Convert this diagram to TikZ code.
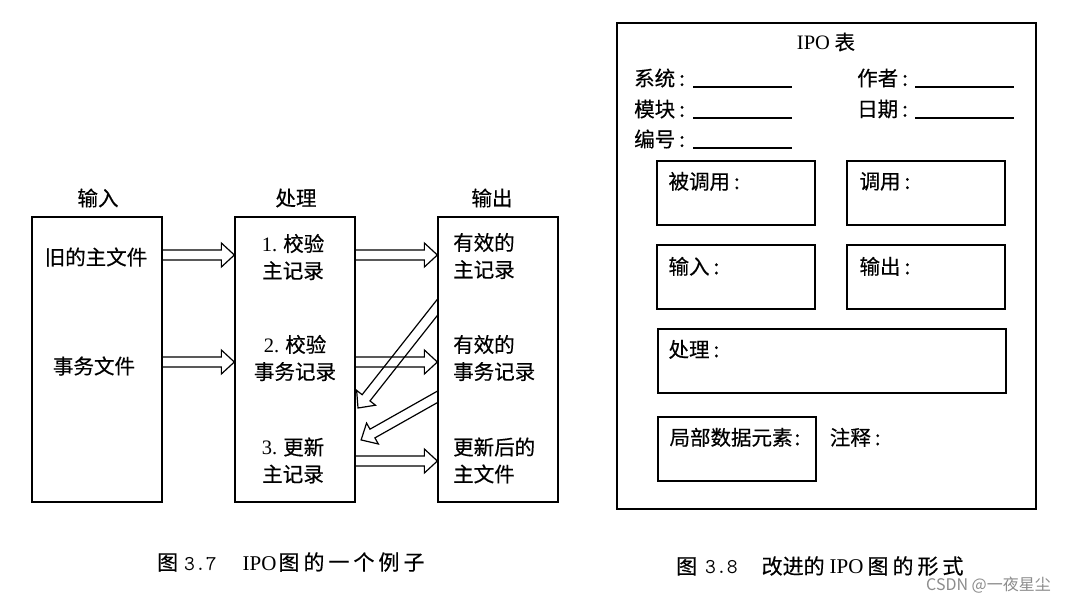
\documentclass[tikz,border=0pt]{standalone}
\usepackage{fontspec}
\setmainfont{Liberation Serif}
\newfontfamily\cjk[FakeBold=0.4]{Noto Sans CJK SC}
\newfontfamily\wmfont{Noto Sans CJK SC}
\newfontfamily\lat{Liberation Serif}
\usetikzlibrary{calc}
\newcommand\hollowarrow[3][]{%
  \path (#2); \pgfgetlastxy{\HAax}{\HAay}%
  \path (#3); \pgfgetlastxy{\HAbx}{\HAby}%
  \pgfmathsetmacro\HAang{atan2(\HAby-\HAay,\HAbx-\HAax)}%
  \pgfmathsetmacro\HAlen{veclen(\HAbx-\HAax,\HAby-\HAay)}%
  \draw[arrowline,#1,shift={(\HAax,\HAay)},rotate=\HAang]
    (0pt,5pt) -- ({\HAlen pt-13pt},5pt) -- ({\HAlen pt-13pt},12pt)
    -- ({\HAlen pt},0pt) -- ({\HAlen pt-13pt},-12pt)
    -- ({\HAlen pt-13pt},-5pt) -- (0pt,-5pt);%
}
\begin{document}
\begin{tikzpicture}[x=1pt,y=-1pt,
  box/.style={draw,line width=1.3pt,inner sep=0pt},
  outerbox/.style={draw,line width=1.5pt,inner sep=0pt},
  txt/.style={font=\cjk\fontsize{20.5}{27}\selectfont,inner sep=0pt},
  capt/.style={font=\cjk\fontsize{21}{25}\selectfont,inner sep=0pt},
  wm/.style={font=\wmfont\fontsize{16}{18}\selectfont,inner sep=0pt,text=black!45},
  arrowline/.style={line width=1.2pt,line join=miter},
  uline/.style={line width=1.2pt}]
\fill[white] (0,0) rectangle (1076,598);
\useasboundingbox (0,0) rectangle (1076,598);

% ---------- left: IPO example ----------
\node[box,minimum width=130pt,minimum height=285pt] (in) at (97,359.5) {};
\node[box,minimum width=120pt,minimum height=285pt] (proc) at (295,359.5) {};
\node[box,minimum width=120pt,minimum height=285pt] (out) at (498,359.5) {};

\node[txt] (hin) at (98,198) {输入};
\node[txt] (hproc) at (296,198) {处理};
\node[txt] (hout) at (492,198) {输出};

\node[txt] (t1) at (96,257) {旧的主文件};
\node[txt] (t2) at (94,366) {事务文件};

\node[txt,align=center] (p1) at (293,257) {{\lat 1.} 校验\\主记录};
\node[txt,align=center] (p2) at (295,358) {{\lat 2.} 校验\\事务记录};
\node[txt,align=center] (p3) at (293,460.5) {{\lat 3.} 更新\\主记录};

\node[txt,align=left,anchor=west] (o1) at (453,256) {有效的\\主记录};
\node[txt,align=left,anchor=west] (o2) at (453,358) {有效的\\事务记录};
\node[txt,align=left,anchor=west] (o3) at (453,460.5) {更新后的\\主文件};

\coordinate (r1) at (0,255);
\coordinate (r2) at (0,362);
\coordinate (r3) at (0,461);
\hollowarrow{in.east |- r1}{proc.west |- r1}
\hollowarrow{in.east |- r2}{proc.west |- r2}
\hollowarrow{proc.east |- r1}{out.west |- r1}
\hollowarrow{proc.east |- r2}{out.west |- r2}
\hollowarrow{proc.east |- r3}{out.west |- r3}

\coordinate (d1s) at (444.2,298.7);
\coordinate (d1e) at (358,408);
\coordinate (d2s) at (446.7,391.6);
\coordinate (d2e) at (361,440);
\begin{scope}
  \clip (0,0) rectangle (out.south west);
  \hollowarrow{d1s}{d1e}
  \hollowarrow{d2s}{d2e}
\end{scope}

\node[capt,anchor=west] (c1) at (157,562)
  {图\hspace{6pt}{\ttfamily 3.7}\hspace{26pt}{\lat IPO}\hspace{2pt}图\kern4pt 的\kern4pt 一\kern4pt 个\kern4pt 例\kern4pt 子};

% ---------- right: improved IPO form ----------
\node[outerbox,minimum width=419pt,minimum height=486pt] (ipo) at (826.5,266) {};
\node[txt] (title) at (826,42) {{\lat IPO} 表};

\node[txt,anchor=west] (f1) at (634,78) {系统\hspace{4pt}:};
\node[txt,anchor=west] (f2) at (634,109) {模块\hspace{4pt}:};
\node[txt,anchor=west] (f3) at (634,139) {编号\hspace{4pt}:};
\node[txt,anchor=west] (f4) at (857,78) {作者\hspace{4pt}:};
\node[txt,anchor=west] (f5) at (857,109) {日期\hspace{4pt}:};
\draw[uline] (693,87) -- (792,87);
\draw[uline] (693,118) -- (792,118);
\draw[uline] (693,148) -- (792,148);
\draw[uline] (915,87) -- (1014,87);
\draw[uline] (915,118) -- (1014,118);

\node[box,minimum width=158pt,minimum height=64pt] (cb) at (736,193) {};
\node[box,minimum width=158pt,minimum height=64pt] (cl) at (926,193) {};
\node[box,minimum width=158pt,minimum height=64pt] (ib) at (736,277) {};
\node[box,minimum width=158pt,minimum height=64pt] (ob) at (926,277) {};
\node[box,minimum width=348pt,minimum height=64pt] (pb) at (832,361) {};
\node[box,minimum width=158pt,minimum height=64pt] (lb) at (737,449) {};

\node[txt,anchor=west] (cbt) at ($(cb.north west)+(12,21)$) {被调用\hspace{4pt}:};
\node[txt,anchor=west] (clt) at ($(cl.north west)+(13,21)$) {调用\hspace{4pt}:};
\node[txt,anchor=west] (ibt) at ($(ib.north west)+(12,22)$) {输入\hspace{4pt}:};
\node[txt,anchor=west] (obt) at ($(ob.north west)+(13,22)$) {输出\hspace{4pt}:};
\node[txt,anchor=west] (pbt) at ($(pb.north west)+(11,21)$) {处理\hspace{4pt}:};
\node[txt,anchor=west] (lbt) at ($(lb.north west)+(12,21)$) {局部数据元素\hspace{2pt}:};
\node[txt,anchor=west] (note) at ($(lb.north east)+(13,21)$) {注释\hspace{4pt}:};

\node[capt,anchor=west] (c2) at (676,566)
  {图\hspace{8pt}{\ttfamily 3.8}\hspace{24pt}改进的\hspace{5pt}{\lat IPO}\hspace{4pt}图\kern4pt 的\kern4pt 形\kern4pt 式};
\node[wm,anchor=west] (wmk) at (926,585) {CSDN @一夜星尘};
\end{tikzpicture}
\end{document}
